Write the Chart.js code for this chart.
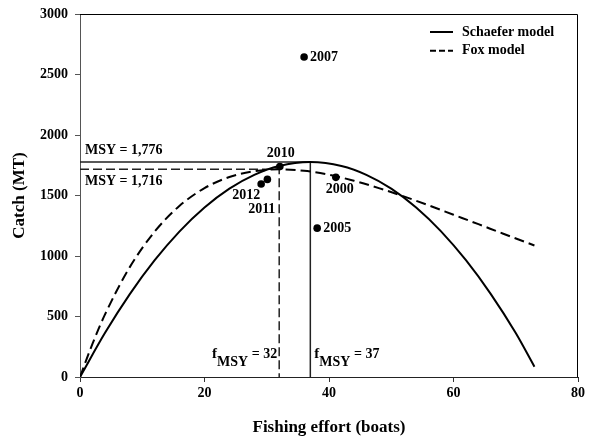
<!DOCTYPE html>
<html>
<head>
<meta charset="utf-8">
<script src="https://cdn.jsdelivr.net/npm/chart.js@4/dist/chart.umd.min.js"></script>
<style>
  html, body { margin: 0; padding: 0; background: #fff; }
  #wrap { width: 592px; height: 441px; }
</style>
</head>
<body>
<div id="wrap"><canvas id="chart" width="592" height="441"></canvas></div>
<script>
// model curves
const schaeferEffort = [0, 4, 8, 12, 16, 20, 24, 28, 32, 37, 42, 46, 50, 54, 58, 62, 66, 70, 73]
const schaeferCatch = [0, 363, 685, 965, 1204, 1401, 1557, 1671, 1744, 1776, 1744, 1671, 1557, 1401, 1204, 965, 685, 363, 85]
const foxEffort = [0, 2, 4, 8, 12, 16, 20, 24, 28, 32, 36, 40, 44, 48, 52, 56, 60, 64, 68, 73]
const foxCatch = [0, 274, 515, 908, 1202, 1415, 1561, 1653, 1701, 1716, 1704, 1671, 1622, 1561, 1493, 1419, 1341, 1263, 1184, 1087]

// observed years
const years = ['2000', '2005', '2007', '2010', '2011', '2012']
const obsEffort = [41.1, 38.1, 36.0, 32.1, 30.1, 29.1]
const obsCatch = [1650, 1230, 2645, 1740, 1633, 1595]

// MSY reference: [Schaefer, Fox]
const msyEffort = [37, 32]
const msyCatch = [1776, 1716]

const xTicks = [0, 20, 40, 60, 80]
const yTicks = [0, 500, 1000, 1500, 2000, 2500, 3000]

// where each year label sits relative to its point
const yearLabelPos = [
  { dx: 4, dy: 12, align: 'center' },
  { dx: 6, dy: 0, align: 'left' },
  { dx: 6, dy: 0, align: 'left' },
  { dx: 1, dy: -13, align: 'center' },
  { dx: 8, dy: 30, align: 'right' },
  { dx: -1, dy: 11, align: 'right' }
]

const FONT = "'Liberation Serif', 'Times New Roman', serif"

function toPoints(xs, ys) {
  let pts = []
  for (let i = 0; i < xs.length; i++) {
    pts.push({ x: xs[i], y: ys[i] })
  }
  return pts
}

const annotations = {
  id: 'annotations',
  afterDatasetsDraw(chart) {
    const ctx = chart.ctx
    const x = chart.scales.x
    const y = chart.scales.y
    const area = chart.chartArea

    ctx.save()
    // frame top + right
    ctx.strokeStyle = '#000'
    ctx.lineWidth = 1
    ctx.beginPath()
    ctx.moveTo(area.left, area.top + 0.5)
    ctx.lineTo(area.right - 0.5, area.top + 0.5)
    ctx.lineTo(area.right - 0.5, area.bottom)
    ctx.stroke()

    ctx.fillStyle = '#000'
    ctx.textBaseline = 'middle'
    ctx.font = 'bold 14px ' + FONT

    // year labels
    for (let i = 0; i < years.length; i++) {
      const p = yearLabelPos[i]
      ctx.textAlign = p.align
      ctx.fillText(years[i], x.getPixelForValue(obsEffort[i]) + p.dx, y.getPixelForValue(obsCatch[i]) + p.dy)
    }

    // MSY labels
    ctx.textAlign = 'left'
    ctx.fillText('MSY = ' + msyCatch[0].toLocaleString('en-US'), area.left + 5, y.getPixelForValue(msyCatch[0]) - 12)
    ctx.fillText('MSY = ' + msyCatch[1].toLocaleString('en-US'), area.left + 5, y.getPixelForValue(msyCatch[1]) + 12)

    // fMSY labels
    ctx.textBaseline = 'alphabetic'
    function fLabel(value, px, alignRight) {
      const parts = [
        { t: 'f', f: 'bold 15px ' + FONT, dy: 0 },
        { t: 'MSY', f: 'bold 14px ' + FONT, dy: 8 },
        { t: ' = ' + value, f: 'bold 14px ' + FONT, dy: 0 }
      ]
      let w = 0
      for (const p of parts) { ctx.font = p.f; w += ctx.measureText(p.t).width }
      let cx = alignRight ? px - w : px
      const base = area.bottom - 19
      for (const p of parts) {
        ctx.font = p.f
        ctx.fillText(p.t, cx, base + p.dy)
        cx += ctx.measureText(p.t).width
      }
    }
    fLabel(msyEffort[1], x.getPixelForValue(msyEffort[1]) - 2, true)
    fLabel(msyEffort[0], x.getPixelForValue(msyEffort[0]) + 4, false)

    // legend
    const items = chart.data.datasets.slice(0, 2)
    ctx.font = 'bold 14px ' + FONT
    ctx.textBaseline = 'middle'
    ctx.textAlign = 'left'
    items.forEach((ds, i) => {
      const ly = 32 + i * 18.7
      ctx.strokeStyle = '#000'
      ctx.lineWidth = 2
      ctx.setLineDash(i == 0 ? [] : [6, 3])
      ctx.beginPath()
      ctx.moveTo(430, ly)
      ctx.lineTo(453, ly)
      ctx.stroke()
      ctx.fillText(ds.label, 462, ly)
    })
    ctx.restore()
  }
}

const ctx = document.getElementById('chart').getContext('2d')
const chart = new Chart(ctx, {
  type: 'scatter',
  data: {
    datasets: [
      {
        label: 'Schaefer model',
        data: toPoints(schaeferEffort, schaeferCatch),
        showLine: true,
        borderColor: '#000',
        borderWidth: 2,
        pointRadius: 0,
        cubicInterpolationMode: 'monotone'
      },
      {
        label: 'Fox model',
        data: toPoints(foxEffort, foxCatch),
        showLine: true,
        borderColor: '#000',
        borderWidth: 2,
        borderDash: [10, 5],
        pointRadius: 0,
        cubicInterpolationMode: 'monotone'
      },
      {
        label: 'Schaefer MSY',
        data: [{ x: 0, y: msyCatch[0] }, { x: msyEffort[0], y: msyCatch[0] }, { x: msyEffort[0], y: 0 }],
        showLine: true,
        borderColor: '#222',
        borderWidth: 1.5,
        pointRadius: 0
      },
      {
        label: 'Fox MSY',
        data: [{ x: 0, y: msyCatch[1] }, { x: msyEffort[1], y: msyCatch[1] }, { x: msyEffort[1], y: 0 }],
        showLine: true,
        borderColor: '#222',
        borderWidth: 1.5,
        borderDash: [9, 4],
        pointRadius: 0
      },
      {
        label: 'Observed',
        data: toPoints(obsEffort, obsCatch),
        showLine: false,
        pointRadius: 3.8,
        pointBackgroundColor: '#000',
        pointBorderColor: '#000',
        borderWidth: 0
      }
    ]
  },
  options: {
    responsive: false,
    animation: false,
    devicePixelRatio: 1,
    layout: { padding: { left: 0, right: 14, top: 7, bottom: 0 } },
    plugins: { legend: { display: false }, tooltip: { enabled: false } },
    scales: {
      x: {
        type: 'linear',
        min: xTicks[0],
        max: xTicks[xTicks.length - 1],
        afterBuildTicks: (s) => { s.ticks = xTicks.map(v => ({ value: v })) },
        afterFit: (s) => { s.height = 64 },
        ticks: { color: '#000', padding: 4, callback: v => String(v), font: { family: FONT, size: 14, weight: 'bold', lineHeight: 1 } },
        grid: { drawOnChartArea: false, drawTicks: true, tickLength: 5, color: '#333' },
        border: { color: '#222', width: 1 },
        title: {
          display: true,
          text: 'Fishing effort (boats)',
          color: '#000',
          font: { family: FONT, size: 17, weight: 'bold' },
          padding: { top: 0, bottom: 3 }
        }
      },
      y: {
        type: 'linear',
        min: yTicks[0],
        max: yTicks[yTicks.length - 1],
        afterBuildTicks: (s) => { s.ticks = yTicks.map(v => ({ value: v })) },
        afterFit: (s) => { s.width = 80 },
        ticks: { color: '#000', padding: 7, callback: v => String(v), font: { family: FONT, size: 14, weight: 'bold', lineHeight: 1 } },
        grid: { drawOnChartArea: false, drawTicks: true, tickLength: 5, color: '#555' },
        border: { color: '#555', width: 1 },
        title: {
          display: true,
          text: 'Catch (MT)',
          color: '#000',
          font: { family: FONT, size: 17, weight: 'bold' },
          padding: { top: 9, bottom: 0 }
        }
      }
    }
  },
  plugins: [annotations]
})
</script>
</body>
</html>
